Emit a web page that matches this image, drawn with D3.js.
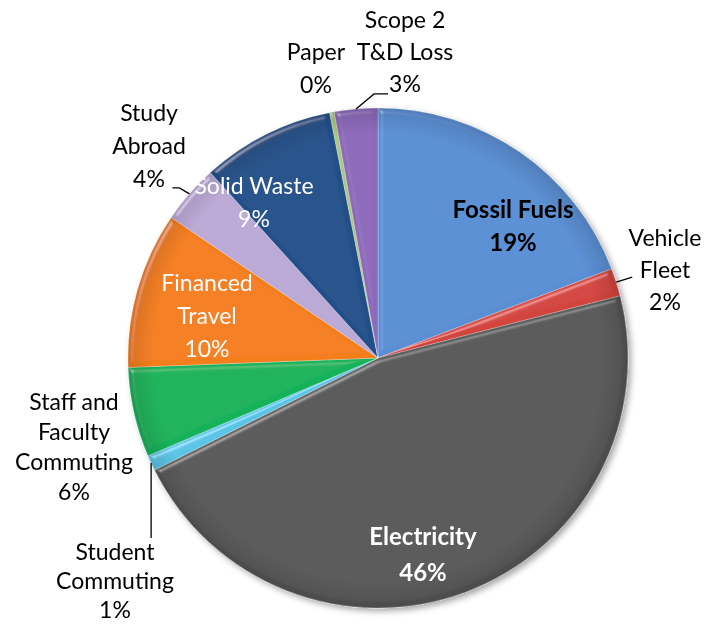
<!DOCTYPE html>
<html><head><meta charset="utf-8">
<script src="https://cdn.jsdelivr.net/npm/d3@7"></script>
<style>
html,body{margin:0;padding:0;background:#fff;}
svg{display:block;}
text{font-family:Lato,"Open Sans",sans-serif;font-size:23px;}
</style></head>
<body><svg id="chart" width="710" height="625"></svg>
<script>
// ---- data ----
const categories = ["Fossil Fuels","Vehicle Fleet","Electricity","Student Commuting","Staff and Faculty Commuting","Financed Travel","Study Abroad","Solid Waste","Paper","Scope 2 T&D Loss"];
const values = [19.2, 1.8, 46.6, 1.0, 5.8, 10.1, 3.8, 8.6, 0.3, 2.8];
const pctLabels = ["19%","2%","46%","1%","6%","10%","4%","9%","0%","3%"];
const labelLines = [["Fossil Fuels"],["Vehicle","Fleet"],["Electricity"],["Student","Commuting"],["Staff and","Faculty","Commuting"],["Financed","Travel"],["Study","Abroad"],["Solid Waste"],["Paper"],["Scope 2","T&D Loss"]];

// ---- styling / layout ----
const colors = ["#5a8fd4","#d2443e","#575757","#5cc4e6","#13b25a","#f47d1c","#bba9d6","#21508a","#a9c57f","#8c69b9"];
const textColor = ["#000","#000","#fff","#000","#000","#fff","#000","#fff","#000","#000"];
const bold = [true,false,true,false,false,false,false,false,false,false];
// label block first-line centre, relative to pie centre
const labelPos = [[135,-148],[287,-120],[45,179],[-263,194],[-304,44],[-171,-75],[-229,-245],[-124,-172],[-62,-306],[27,-338]];
const lineHs = [33,32,36,29,30,33,33,33,33,32];
// leader lines: extra points relative to the arc point
const leaders = {1:[[16,-5]], 3:[[0,75]], 6:[[-10,-6],[-17,-6]], 9:[[18,-15],[32,-15]]};

const W = 710, H = 625, cx = 378, cy = 358, R = 250;
const svg = d3.select("#chart");
const defs = svg.append("defs");

const shadow = defs.append("filter").attr("id","shadow").attr("x","-20%").attr("y","-20%").attr("width","140%").attr("height","140%");
shadow.append("feDropShadow").attr("dx",3).attr("dy",3).attr("stdDeviation",3).attr("flood-color","#000").attr("flood-opacity",0.35);

const bevel = defs.append("filter").attr("id","bevel").attr("x","-5%").attr("y","-5%").attr("width","110%").attr("height","110%");
bevel.append("feGaussianBlur").attr("in","SourceAlpha").attr("stdDeviation",2.5).attr("result","blur");
const spec = bevel.append("feSpecularLighting").attr("in","blur").attr("surfaceScale",4).attr("specularConstant",0.6).attr("specularExponent",30).attr("lighting-color","#ffffff").attr("result","spec");
spec.append("feDistantLight").attr("azimuth",225).attr("elevation",35);
bevel.append("feComposite").attr("in","spec").attr("in2","SourceAlpha").attr("operator","in").attr("result","specIn");
bevel.append("feComposite").attr("in","SourceGraphic").attr("in2","specIn").attr("operator","arithmetic").attr("k1",0).attr("k2",1).attr("k3",0.6).attr("k4",0);

const pie = d3.pie().sort(null).value(d => d).startAngle(0).endAngle(2*Math.PI);
const arcs = pie(values);
const arc = d3.arc().innerRadius(0).outerRadius(R);

const g = svg.append("g").attr("transform",`translate(${cx},${cy})`);
const pg = g.append("g").attr("filter","url(#shadow)");
pg.selectAll("path").data(arcs).join("path")
  .attr("d", arc)
  .attr("fill",(d,i)=>colors[i])
  .attr("stroke","rgba(255,255,255,0.35)")
  .attr("stroke-width",0.8)
  .attr("filter","url(#bevel)");

// rim shading overlay
const rg = defs.append("radialGradient").attr("id","rim");
rg.append("stop").attr("offset","0.9").attr("stop-color","#000").attr("stop-opacity",0);
rg.append("stop").attr("offset","1").attr("stop-color","#000").attr("stop-opacity",0.12);
g.append("circle").attr("r",R).attr("fill","url(#rim)");

// leader lines
const pt = (a, r) => [Math.sin(a)*r, -Math.cos(a)*r];
Object.keys(leaders).forEach(k => {
  const i = +k, a = arcs[i];
  const p0 = pt((a.startAngle+a.endAngle)/2, R);
  const pts = [p0].concat(leaders[k].map(o => [p0[0]+o[0], p0[1]+o[1]]));
  g.append("path").attr("d", d3.line()(pts)).attr("fill","none").attr("stroke","#000").attr("stroke-width",1.3);
});

// labels
labelLines.forEach((lines, i) => {
  const [lx, ly] = labelPos[i];
  const all = lines.concat([pctLabels[i]]);
  const t = g.append("text").attr("text-anchor","middle")
    .attr("fill",textColor[i]).attr("font-weight",bold[i]?"bold":"normal")
    .style("font-size", bold[i] ? "24px" : null);
  all.forEach((s, j) => {
    t.append("tspan").attr("x",lx).attr("y",ly + j*lineHs[i] + 8).text(s);
  });
});
</script></body></html>
